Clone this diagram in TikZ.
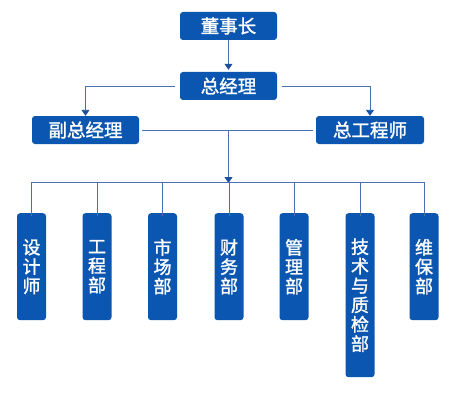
\documentclass[tikz,border=0pt]{standalone}
\usepackage{fontspec}
\newfontfamily\cjk{Noto Sans CJK SC}[FakeBold=1.5]
\usetikzlibrary{arrows.meta}
\definecolor{boxblue}{HTML}{0B56B0}
\definecolor{lineblue}{HTML}{4A6FB2}
\definecolor{tipblue}{HTML}{1C4F9E}
\tikzset{
  hbox/.style={fill=boxblue, rounded corners=3pt, text=white, inner sep=0pt,
    minimum height=28pt, font=\cjk\fontsize{18.5}{20}\selectfont},
  vbox/.style={fill=boxblue, rounded corners=3pt, text=white, inner sep=0pt,
    minimum width=29pt, text width=29pt, align=center, anchor=north,
    font=\cjk\fontsize{18}{19.4}\selectfont},
  conn/.style={draw=lineblue, line width=0.9pt},
  arr/.style={conn, -{Triangle[width=8pt,length=6pt,color=tipblue]}}
}
\begin{document}
\begin{tikzpicture}[x=1pt,y=-1pt]
\useasboundingbox (0,0) rectangle (457,409);
\node[hbox, minimum width=97pt] (dsz) at (228.5,26) {董事长};
\node[hbox, minimum width=97pt] (zjl) at (228.5,86) {总经理};
\node[hbox, minimum width=107pt] (fzjl) at (85.5,130) {副总经理};
\node[hbox, minimum width=108pt] (zgcs) at (370,130) {总工程师};

\node[vbox, minimum height=107pt] (d1) at (31.5,213) {设\\计\\师};
\node[vbox, minimum height=107pt] (d2) at (97,213) {工\\程\\部};
\node[vbox, minimum height=107pt] (d3) at (162.5,213) {市\\场\\部};
\node[vbox, minimum height=107pt] (d4) at (229,213) {财\\务\\部};
\node[vbox, minimum height=107pt] (d5) at (294,213) {管\\理\\部};
\node[vbox, minimum height=164pt] (d6) at (360,213) {技\\术\\与\\质\\检\\部};
\node[vbox, minimum height=107pt] (d7) at (424,213) {维\\保\\部};

\coordinate (bus) at (228.5,182);
\coordinate (mid) at (228.5,130);

\draw[arr] (dsz.south) -- ([yshift=2pt]zjl.north);
\draw[arr] ([xshift=-5pt]zjl.west) -| (fzjl.north);
\draw[arr] ([xshift=5pt]zjl.east) -| (zgcs.north);
\draw[conn] ([xshift=3pt]fzjl.east) -- ([xshift=-3pt]zgcs.west);
\draw[arr] (mid) -- ([yshift=-1pt]bus);
\draw[conn] (d1 |- bus) -- (d7 |- bus);
\foreach \d in {d1,d2,d3,d4,d5,d6,d7}{
  \draw[conn] (\d |- bus) -- ([yshift=-3pt]\d.north);
}
\end{tikzpicture}
\end{document}
